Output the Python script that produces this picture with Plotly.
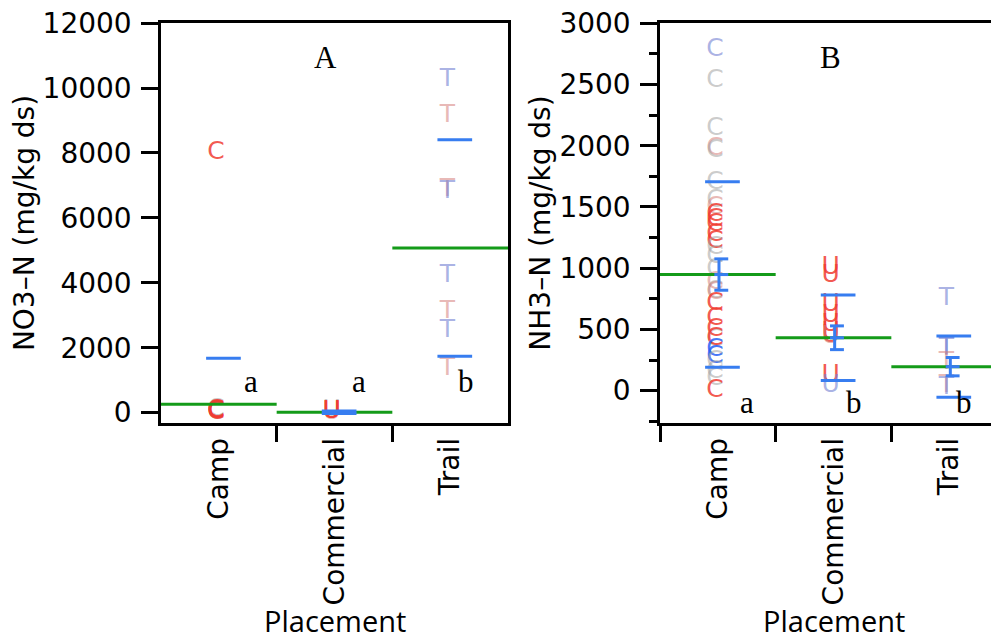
import plotly.graph_objects as go

# ---------------- data ----------------
categories = ["Camp", "Commercial", "Trail"]
cat_pos = [0.5, 1.5, 2.5]

# colour groups
COLORS = {
    "R": "rgba(240,60,50,0.85)",
    "P": "rgba(212,125,120,0.55)",
    "G": "rgba(160,160,160,0.55)",
    "L": "rgba(115,128,210,0.6)",
    "B": "rgba(40,95,245,0.85)",
}

# Panel A : NO3-N
a_camp_vals = [8000, 90, 60, 10, 40, 70, 20, 0, 30]
a_camp_cols = ["R", "G", "P", "G", "P", "R", "R", "R", "R"]
a_comm_vals = [60, 10, 40, 25]
a_comm_cols = ["G", "P", "R", "R"]
a_trail_vals = [10252, 9150, 6870, 6800, 4227, 3120, 2523, 1345]
a_trail_cols = ["L", "P", "P", "L", "L", "P", "L", "P"]
a_means = [258, 12, 5075]
a_sd = [1416, 40, 3335]
a_yticks = [0, 2000, 4000, 6000, 8000, 10000, 12000]

# Panel B : NH3-N
b_camp_vals = [2781, 2530, 2140, 1979, 1955, 1700, 1550, 1495, 1440, 1393, 1353,
               1271, 1216, 1165, 1094, 985, 879, 808, 797, 713, 591, 496, 414,
               420, 332, 278, 240, 155, 101, 0]
b_camp_cols = ["L", "G", "G", "P", "G", "G", "G", "P", "R", "R", "R",
               "R", "R", "G", "G", "G", "P", "G", "P", "R", "R", "R", "G",
               "R", "B", "B", "G", "G", "G", "R"]
b_comm_vals = [1000, 935, 700, 608, 536, 471, 450, 440, 120, 42]
b_comm_cols = ["R", "R", "R", "R", "R", "R", "R", "P", "R", "L"]
b_trail_vals = [749, 354, 340, 229, 44, 25]
b_trail_cols = ["L", "L", "L", "P", "P", "L"]
b_means = [948, 432, 196]
b_sd = [757, 350, 250]
b_se = [128, 97, 75]

a_letters = ["a", "a", "b"]
b_letters = ["a", "b", "b"]
x_title = "Placement"

GREEN = "rgb(20,155,25)"
BLUE = "rgb(55,125,240)"
SYM = {"Camp": "C", "Commercial": "U", "Trail": "T"}

fig = go.Figure()


def add_points(vals, cols, cat_i, xa, ya):
    sym = SYM[categories[cat_i]]
    fig.add_trace(go.Scatter(
        x=[cat_pos[cat_i] - 0.025] * len(vals), y=vals, mode="text",
        text=[sym] * len(vals), textposition="middle center",
        textfont=dict(family="DejaVu Sans", size=25, color=[COLORS[c] for c in cols]),
        xaxis=xa, yaxis=ya, showlegend=False, hoverinfo="skip"))


def add_stats(means, sds, ses, xa, ya):
    gx, gy = [], []
    for i, m in enumerate(means):
        gx += [cat_pos[i] - 0.5, cat_pos[i] + 0.5, None]
        gy += [m, m, None]
    fig.add_trace(go.Scatter(x=gx, y=gy, mode="lines", line=dict(color=GREEN, width=3),
                             xaxis=xa, yaxis=ya, showlegend=False, hoverinfo="skip"))
    bx, by = [], []
    for i, m in enumerate(means):
        c = cat_pos[i] + 0.04
        for v in (m + sds[i], m - sds[i]):
            bx += [c - 0.15, c + 0.15, None]
            by += [v, v, None]
        if ses is not None:
            cv = cat_pos[i] + 0.01
            bx += [cv, cv, None]
            by += [m - ses[i], m + ses[i], None]
            cc = cat_pos[i] + 0.03
            for v in (m - ses[i], m, m + ses[i]):
                bx += [cc - 0.06, cc + 0.06, None]
                by += [v, v, None]
    fig.add_trace(go.Scatter(x=bx, y=by, mode="lines", line=dict(color=BLUE, width=3),
                             xaxis=xa, yaxis=ya, showlegend=False, hoverinfo="skip"))


add_points(a_camp_vals, a_camp_cols, 0, "x", "y")
add_points(a_comm_vals, a_comm_cols, 1, "x", "y")
add_points(a_trail_vals, a_trail_cols, 2, "x", "y")
add_stats(a_means, a_sd, None, "x", "y")

add_points(b_camp_vals, b_camp_cols, 0, "x2", "y2")
add_points(b_comm_vals, b_comm_cols, 1, "x2", "y2")
add_points(b_trail_vals, b_trail_cols, 2, "x2", "y2")
add_stats(b_means, b_sd, b_se, "x2", "y2")

# letters
LFONT = dict(family="Liberation Serif", size=31, color="black")
ann = []
ann.append(dict(x=1.42, y=10945, xref="x", yref="y", text="A", showarrow=False, font=LFONT))
ann.append(dict(x=1.47, y=2718, xref="x2", yref="y2", text="B", showarrow=False, font=LFONT))
for xx, t in zip([0.78, 1.71, 2.64], a_letters):
    ann.append(dict(x=xx, y=945, xref="x", yref="y", text=t, showarrow=False, font=LFONT))
for xx, t in zip([0.75, 1.68, 2.63], b_letters):
    ann.append(dict(x=xx, y=-98, xref="x2", yref="y2", text=t, showarrow=False, font=LFONT))

TITLEFONT = dict(family="Open Sans", size=29, color="black")
for xr in ("x domain", "x2 domain"):
    ann.append(dict(x=0.5, y=-0.4925, xref=xr, yref="paper", text=x_title,
                    showarrow=False, yanchor="middle", xanchor="center", font=TITLEFONT))

TICKFONT = dict(family="DejaVu Sans", size=28, color="black")

xcommon = dict(range=[0, 3], showline=True, linecolor="black", linewidth=2.5, mirror=True,
               tickmode="array", tickvals=cat_pos, ticktext=categories, tickangle=-90,
               ticks="", tickfont=TICKFONT, showgrid=False, zeroline=False,
               ticklabelstandoff=1, ticklabeloverflow="allow",
               minor=dict(tickmode="array", tickvals=[1, 2], ticks="outside", ticklen=16,
                          tickwidth=2.5, tickcolor="black", showgrid=False),
               automargin=False)

PW = 999 - 153  # plot area width

fig.update_layout(
    width=999, height=637,
    margin=dict(l=153, r=0, t=15, b=222),
    paper_bgcolor="white", plot_bgcolor="white",
    font=dict(family="DejaVu Sans", color="black"),
    annotations=ann,
    xaxis=dict(xcommon, domain=[0, 347 / PW], anchor="y"),
    xaxis2=dict(xcommon, domain=[499 / PW, 1], anchor="y2", range=[0, 3],
                minor=dict(tickmode="array", tickvals=[0, 1, 2], ticks="outside", ticklen=16,
                           tickwidth=2.5, tickcolor="black", showgrid=False)),
    yaxis=dict(domain=[0, 1], anchor="x", range=[-320, 12005], tickmode="array",
               tickvals=a_yticks, tickformat="d", ticklabeloverflow="allow",
               ticks="outside", ticklen=17, tickwidth=2.5, tickcolor="black",
               showline=True, linecolor="black", linewidth=2.5, mirror=True,
               tickfont=TICKFONT, showgrid=False, zeroline=False, ticklabelstandoff=4,
               title=dict(text="NO3–N (mg/kg ds)", font=dict(family="DejaVu Sans", size=28),
                          standoff=16),
               automargin=False),
    yaxis2=dict(domain=[0, 1], anchor="x2", range=[-264, 3002], tickmode="linear",
                tick0=0, dtick=500, tickformat="d", ticklabeloverflow="allow",
                ticks="outside", ticklen=17, tickwidth=2.5, tickcolor="black",
                minor=dict(tickmode="linear", tick0=250, dtick=500, ticks="outside", ticklen=8,
                           tickwidth=2.5, tickcolor="black", showgrid=False),
                showline=True, linecolor="black", linewidth=2.5, mirror=False,
                tickfont=TICKFONT, showgrid=False, zeroline=False, ticklabelstandoff=4,
                title=dict(text="NH3–N (mg/kg ds)", font=dict(family="DejaVu Sans", size=28),
                           standoff=1),
                automargin=False),
)

fig.write_html("out.html")
